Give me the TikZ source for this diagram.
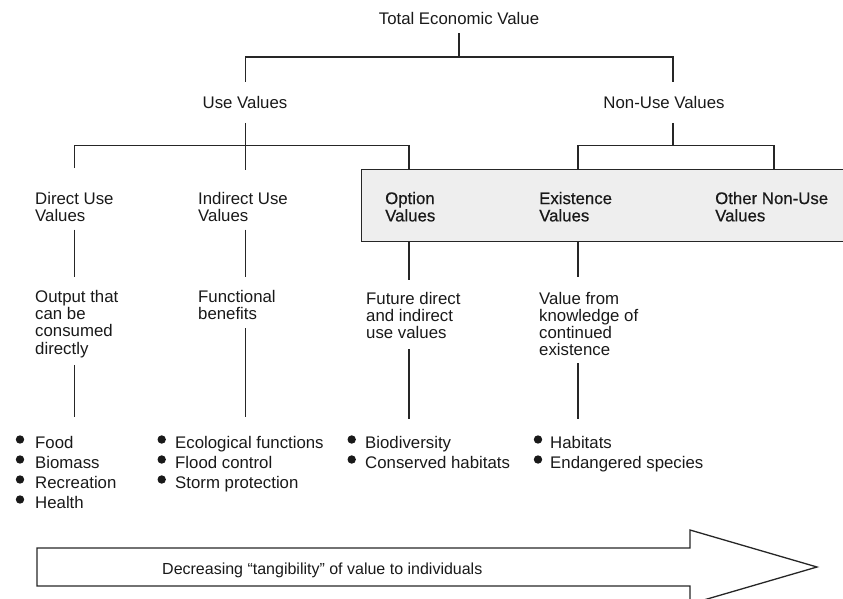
\documentclass[tikz,border=0pt]{standalone}
\usepackage{fontspec}
\setmainfont{Liberation Sans}
\newfontfamily\boxfont[FakeBold=0.5]{Liberation Sans}
\begin{document}
\begin{tikzpicture}[x=1pt,y=-1pt,
  lbl/.style={inner sep=0pt, anchor=north west, align=left, text=black!90,
              font=\fontsize{16.8}{17.3}\selectfont},
  boxlbl/.style={lbl, font=\boxfont\fontsize{16.8}{17.3}\selectfont},
  ttl/.style={inner sep=0pt, anchor=base, text=black!90, font=\fontsize{16.8}{17.3}\selectfont},
  itm/.style={inner sep=0pt, anchor=north west, align=left, text=black!90,
              font=\fontsize{16.8}{20}\selectfont},
  conn/.style={line width=1.3pt, draw=black!85, line join=miter},
  dot/.style={fill=black!90}]
\useasboundingbox (0,0) rectangle (843,599);

% shaded group box
\node[draw=black!85, line width=1.4pt, fill=gray!13, inner sep=0pt, anchor=north west,
      minimum width=490pt, minimum height=72pt] (grp) at (361,168.5) {};

% labels
\node[ttl] (tev) at (459,25) {Total Economic Value};
\node[ttl] (use) at (245,109) {Use Values};
\node[ttl] (nonuse) at (664,109) {Non-Use Values};

\node[lbl] (dir) at (35,191.7) {Direct Use\\Values};
\node[lbl] (ind) at (198,191.7) {Indirect Use\\Values};
\node[boxlbl] (opt) at (385,191.7) {Option\\Values};
\node[boxlbl] (exi) at (539,191.7) {Existence\\Values};
\node[boxlbl] (oth) at (715,191.7) {Other Non-Use\\Values};

\node[lbl] (outp) at (35,290) {Output that\\can be\\consumed\\directly};
\node[lbl] (fun) at (198,290) {Functional\\benefits};
\node[lbl] (fut) at (366,291.7) {Future direct\\and indirect\\use values};
\node[lbl] (kno) at (539,291.7) {Value from\\knowledge of\\continued\\existence};

\node[itm] (l1) at (35,436) {Food\\Biomass\\Recreation\\Health};
\node[itm] (l2) at (175,436) {Ecological functions\\Flood control\\Storm protection};
\node[itm] (l3) at (365,436) {Biodiversity\\Conserved habitats};
\node[itm] (l4) at (550,436) {Habitats\\Endangered species};

% bullets
\foreach \k in {0,1,2,3} \fill[dot] (20,439.5+20*\k) circle (4.2pt);
\foreach \k in {0,1,2} \fill[dot] (161.7,439.5+20*\k) circle (4.2pt);
\foreach \k in {0,1} \fill[dot] (351.7,439.5+20*\k) circle (4.2pt);
\foreach \k in {0,1} \fill[dot] (538,439.5+20*\k) circle (4.2pt);

% column coordinates
\coordinate (cD) at (74.5,0);
\coordinate (cI) at (245.5,0);
\coordinate (cO) at (409,0);
\coordinate (cE) at (578,0);
\coordinate (cN) at (774,0);
\coordinate (cNU) at (673,0);

% top tree
\draw[conn] ([yshift=-8pt]tev.south) -- (tev.south |- 0,57);
\draw[conn] (cI |- 0,82) |- (cNU |- 0,57) -- (cNU |- 0,82);
% use values branch
\draw[conn] ([yshift=-13.5pt]use.south -| cI) -- (cI |- 0,170);
\draw[conn] (cD |- dir.north) ++(0,-23.5) |- (cO |- 0,145.5) -- (cO |- grp.north);
% non-use branch
\draw[conn] ([yshift=-13.5pt]nonuse.south -| cNU) -- (cNU |- 0,145.5);
\draw[conn] (cE |- grp.north) |- (cN |- 0,145.5) -- (cN |- grp.north);

% second level
\draw[conn] ([yshift=-8pt]dir.south -| cD) -- ([yshift=13pt]outp.north -| cD);
\draw[conn] ([yshift=-8pt]ind.south -| cI) -- ([yshift=13pt]fun.north -| cI);
\draw[conn] (grp.south -| cO) -- ([yshift=11.7pt]fut.north -| cO);
\draw[conn] (grp.south -| cE) -- ([yshift=14.7pt]kno.north -| cE);

% third level
\draw[conn] ([yshift=-7pt]outp.south -| cD) -- ([yshift=19pt]l1.north -| cD);
\draw[conn] ([yshift=-8pt]fun.south -| cI) -- ([yshift=19pt]l2.north -| cI);
\draw[conn] ([yshift=-10pt]fut.south -| cO) -- ([yshift=17pt]l3.north -| cO);
\draw[conn] ([yshift=-7pt]kno.south -| cE) -- ([yshift=17pt]l4.north -| cE);

% big arrow
\draw[line width=1.3pt, draw=black!85, line join=miter]
  (37,548) -- (690,548) -- (690,530) -- (817,567) -- (690,604) -- (690,586) -- (37,586) -- cycle;
\node[ttl, anchor=base west, font=\fontsize{16}{17}\selectfont] (arr) at (162,574)
  {Decreasing “tangibility” of value to individuals};
\end{tikzpicture}
\end{document}
